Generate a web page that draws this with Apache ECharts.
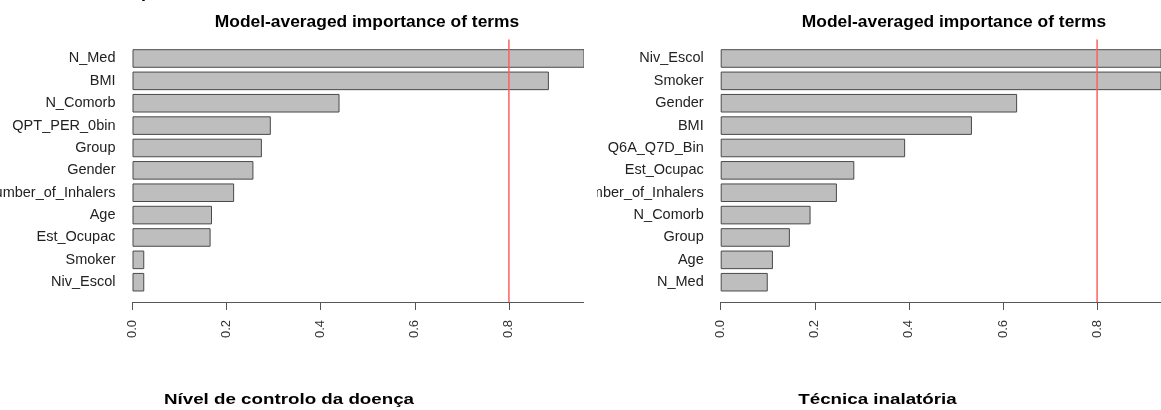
<!DOCTYPE html>
<html>
<head>
<meta charset="utf-8">
<script src="https://cdn.jsdelivr.net/npm/echarts@6/dist/echarts.min.js"></script>
<style>
  body{margin:0;background:#fff;}
  #wrap{position:relative;width:1161px;height:410px;overflow:hidden;}
  #left{position:absolute;left:0;top:0;width:584px;height:410px;}
  #right{position:absolute;left:597px;top:0;width:564px;height:410px;}
</style>
</head>
<body>
<div id="wrap"><div id="left"></div><div id="right"></div></div>
<script>
var chartTitle='Model-averaged importance of terms';

var leftCaption='Nível de controlo da doença';
var leftTerms=['N_Med','BMI','N_Comorb','QPT_PER_0bin','Group','Gender','Number_of_Inhalers','Age','Est_Ocupac','Smoker','Niv_Escol'];
var leftImportance=[1.0,0.885,0.44,0.294,0.275,0.257,0.216,0.169,0.166,0.025,0.025];

var rightCaption='Técnica inalatória';
var rightTerms=['Niv_Escol','Smoker','Gender','BMI','Q6A_Q7D_Bin','Est_Ocupac','Number_of_Inhalers','N_Comorb','Group','Age','N_Med'];
var rightImportance=[1.0,1.0,0.63,0.534,0.392,0.284,0.247,0.191,0.147,0.111,0.100];

var xTicks=[0,0.2,0.4,0.6,0.8];
var threshold=0.8;

var font='"Liberation Sans", Arial, sans-serif';

// one panel: bars in grid 0, the red cut-off line in grid 1 (taller, same x scale)
function makeOption(terms,values,gridLeft,gridWidth,titleX,caption,captionX,extra){
  var xmax=gridWidth/470.5;
  var g=[
    {type:'text',x:titleX,y:22,style:{text:chartTitle,font:'bold 17.4px '+font,fill:'#000',
      align:'center',verticalAlign:'middle'}},
    {type:'text',x:captionX,y:400,scaleX:1.25,style:{text:caption,font:'bold 15px '+font,fill:'#000',
      align:'center',verticalAlign:'middle'}}
  ];
  if(extra) g.push(extra);
  return {
    animation:false,
    graphic:g,
    grid:[
      {left:gridLeft,top:47.3,width:gridWidth,height:246.1,outerBoundsMode:'none',containLabel:false},
      {left:gridLeft,top:39.5,width:gridWidth,height:262.5,outerBoundsMode:'none',containLabel:false}
    ],
    xAxis:[
      {
        type:'value',gridIndex:0,min:0,max:xmax,offset:8.6,
        splitLine:{show:false},
        axisLine:{show:true,lineStyle:{color:'#555',width:1}},
        axisTick:{show:true,length:8,lineStyle:{color:'#555'},customValues:xTicks},
        axisLabel:{rotate:90,margin:18,color:'#333',fontSize:13,fontFamily:font,
          customValues:xTicks,
          formatter:function(v){return v.toFixed(1);}}
      },
      {type:'value',gridIndex:1,min:0,max:xmax,show:false}
    ],
    yAxis:[
      {
        type:'category',gridIndex:0,data:terms,inverse:true,
        axisLine:{show:false},axisTick:{show:false},
        axisLabel:{margin:17,color:'#222',fontSize:14.5,fontFamily:font}
      },
      {type:'value',gridIndex:1,min:0,max:1,show:false}
    ],
    series:[
      {
        type:'bar',xAxisIndex:0,yAxisIndex:0,data:values,barWidth:'83%',clip:true,
        itemStyle:{color:'#bebebe',borderColor:'#4a4a4a',borderWidth:1}
      },
      {
        type:'line',xAxisIndex:1,yAxisIndex:1,symbol:'none',silent:true,
        data:[[threshold,0],[threshold,1]],
        lineStyle:{color:'#ff6060',width:1.5}
      }
    ]
  };
}

var left=echarts.init(document.getElementById('left'));
left.setOption(makeOption(leftTerms,leftImportance,132.5,451.5,367,leftCaption,289,
  {type:'text',x:141,y:-17,style:{text:'p',font:'bold 18px '+font,fill:'#000'}}));

var right=echarts.init(document.getElementById('right'));
right.setOption(makeOption(rightTerms,rightImportance,123.7,440.3,357,rightCaption,280.5));
</script>
</body>
</html>
